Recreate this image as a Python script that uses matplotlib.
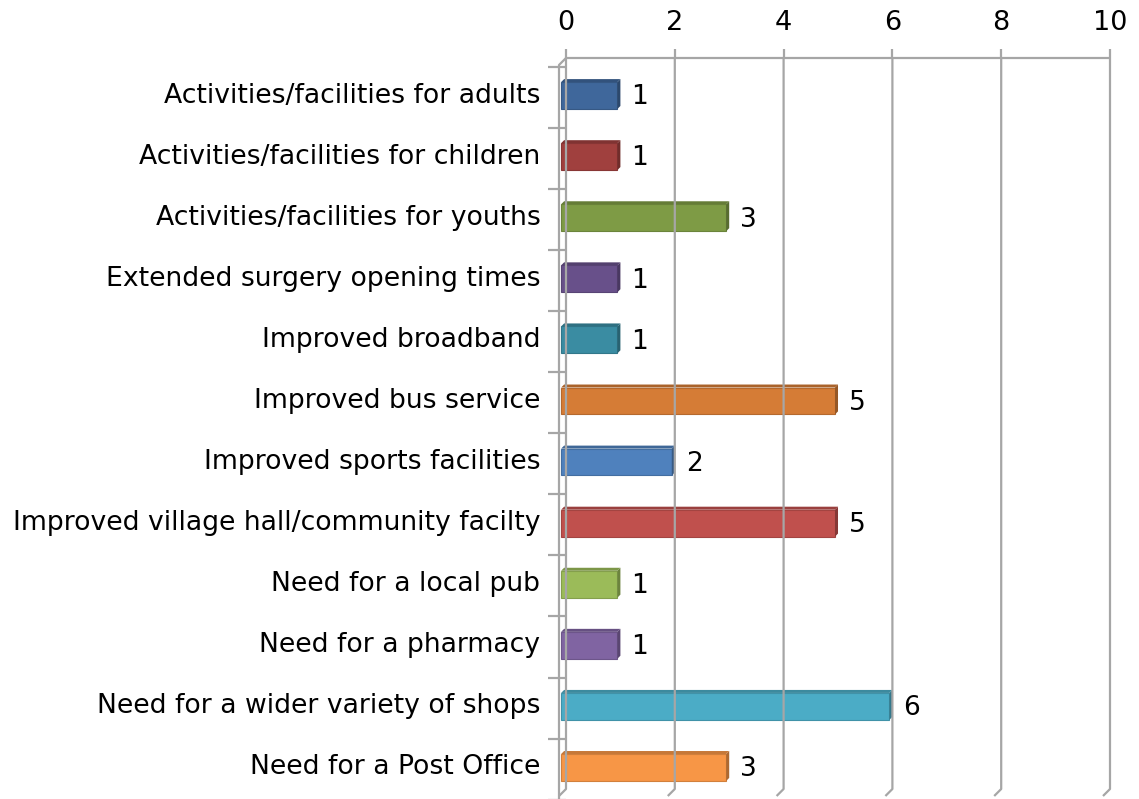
import numpy as np
import matplotlib
matplotlib.use("Agg")
import matplotlib.pyplot as plt
from matplotlib.patches import Polygon
import matplotlib.colors as mcolors

categories = [
    "Activities/facilities for adults",
    "Activities/facilities for children",
    "Activities/facilities for youths",
    "Extended surgery opening times",
    "Improved broadband",
    "Improved bus service",
    "Improved sports facilities",
    "Improved village hall/community facilty",
    "Need for a local pub",
    "Need for a pharmacy",
    "Need for a wider variety of shops",
    "Need for a Post Office",
]
values = [1, 1, 3, 1, 1, 5, 2, 5, 1, 1, 6, 3]
colors = ["#3F679B", "#A0403E", "#7E9B45", "#68508A", "#3A8CA2", "#D57C36",
          "#4F81BD", "#C0504D", "#9BBB59", "#8064A2", "#4BACC6", "#F79646"]
x_ticks = [0, 2, 4, 6, 8, 10]

plt.rcParams['font.family'] = ['DejaVu Sans']
W, H = 1139, 799
fig = plt.figure(figsize=(W / 100, H / 100), dpi=100)

# front plane of the 3d box, pixel positions converted to figure fraction
left, right, top, bottom = 566, 1110, 65, 798
ax = fig.add_axes([left / W, 1 - bottom / H, (right - left) / W, (bottom - top) / H])
ax.set_xlim(0, 10)
ax.set_ylim(len(categories) - 0.5, -0.5)
ax.axis("off")

grid_c = "#A6A6A6"

def fline(xs, ys, **kw):
    fx = [x / W for x in xs]
    fy = [1 - y / H for y in ys]
    fig.add_artist(plt.Line2D(fx, fy, transform=fig.transFigure, color=grid_c,
                              lw=1.6, solid_capstyle="butt", **kw))

# back wall gridlines with the floor diagonal at the bottom
to_pix = lambda v: left + (right - left) * v / 10
for t in x_ticks:
    xp = to_pix(t)
    fline([xp, xp, xp - 7], [58, 789, 796])
    fline([xp, xp], [49, 58])
    fig.text(xp / W, 1 - 23 / H, str(t), ha="center", va="center", fontsize=19.5)
fline([to_pix(0), to_pix(10)], [58, 58])

# left side wall and category ticks
fline([559, 559, 566], [800, 65, 58])
n = len(categories)
step = (bottom - top) / n
for k in range(n + 1):
    yp = 66.7 + step * k
    fline([548, 566], [yp, yp])

# bars with a small extruded side and top
dx = 3 / ((right - left) / 10)
dy = 3 / step
half = 0.22
shift = 0.055
for i, (v, c) in enumerate(zip(values, colors)):
    rgb = np.array(mcolors.to_rgb(c))
    x0, x1 = -0.09, v - shift
    front = Polygon([(x0, i - half), (x1, i - half), (x1, i + half), (x0, i + half)],
                    closed=True, facecolor=c, edgecolor=rgb * 0.85, lw=0.8, zorder=3)
    side = Polygon([(x1, i - half), (x1 + dx, i - half - dy), (x1 + dx, i + half - dy), (x1, i + half)],
                   closed=True, facecolor=rgb * 0.7, edgecolor="none", zorder=3)
    topf = Polygon([(x0, i - half), (x0 + dx, i - half - dy), (x1 + dx, i - half - dy), (x1, i - half)],
                   closed=True, facecolor=rgb * 0.8, edgecolor="none", zorder=3)
    for p in (front, side, topf):
        p.set_clip_on(False)
        ax.add_patch(p)
    ax.text(v + 0.2, i + 0.03, str(v), ha="left", va="center", fontsize=19, clip_on=False)
    ax.text(-0.47, i, categories[i], ha="right", va="center", fontsize=19.2, clip_on=False)

fig.savefig("out.png", dpi=100)
